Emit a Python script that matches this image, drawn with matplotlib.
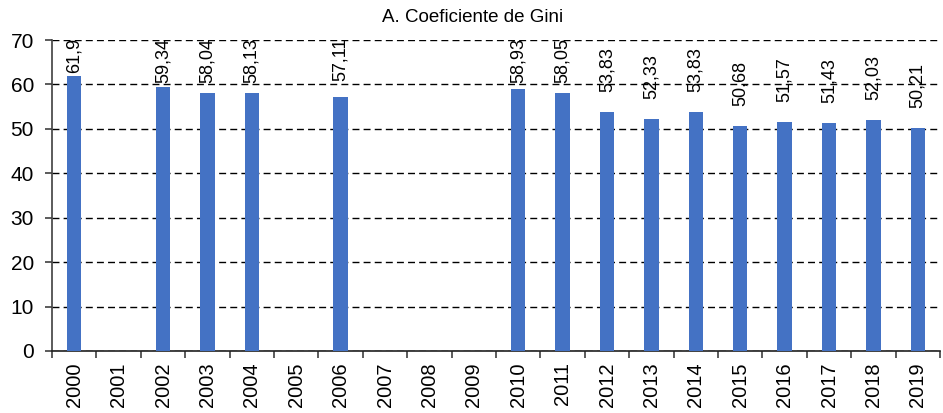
import numpy as np
import matplotlib
matplotlib.use("Agg")
import matplotlib.pyplot as plt
from matplotlib.transforms import offset_copy

years = [str(y) for y in range(2000, 2020)]
gini = [61.9, np.nan, 59.34, 58.04, 58.13, np.nan, 57.11, np.nan, np.nan, np.nan,
        58.93, 58.05, 53.83, 52.33, 53.83, 50.68, 51.57, 51.43, 52.03, 50.21]
y_ticks = [0, 10, 20, 30, 40, 50, 60, 70]
title = "A. Coeficiente de Gini"

plt.rcParams["font.family"] = ["Liberation Sans", "DejaVu Sans"]

fig = plt.figure(figsize=(9.43, 4.13), dpi=100)
ax = fig.add_axes([52 / 943, 1 - 351 / 413, 888 / 943, 311 / 413])

x = np.arange(len(years))
ax.bar(x, gini, width=0.32, color="#4472C4", zorder=3)

ax.set_xlim(-0.5, len(years) - 0.5)
ax.set_ylim(0, 70)
ax.set_yticks(y_ticks)
ax.yaxis.grid(True, linestyle=(0, (5, 3)), color="black", linewidth=1.0, zorder=0)
ax.set_axisbelow(True)

ax.set_xticks(x)
ax.set_xticklabels(years, rotation=90, fontsize=14.5)
ax.set_xticks(np.arange(-0.5, len(years)), minor=True)
ax.tick_params(axis="x", which="major", length=0, pad=8)
ax.tick_params(axis="x", which="minor", length=5, width=1.2, color="#404040", direction="out")
ax.tick_params(axis="y", length=5, width=1.2, color="#404040", pad=8, labelsize=15)

for side in ["top", "right"]:
    ax.spines[side].set_visible(False)
ax.spines["left"].set_color("#404040")
ax.spines["left"].set_linewidth(1.2)
ax.spines["bottom"].set_color("#202020")
ax.spines["bottom"].set_linewidth(1.2)

fig.text(0.5015, 1 - 18 / 413, title, ha="center", va="center", fontsize=13.5)

# etiquetas de valor encima de las barras
gap = 14
labels = []
for i, v in enumerate(gini):
    if np.isnan(v):
        continue
    txt = f"{v:g}".replace(".", ",")
    t = ax.text(i, v, txt, rotation=90, ha="center", va="bottom", fontsize=13,
                transform=offset_copy(ax.transData, fig, y=gap, units="points"),
                zorder=4)
    labels.append(t)

fig.canvas.draw()
renderer = fig.canvas.get_renderer()
top = ax.transAxes.transform((0, 1))[1] + 2
for t in labels:
    bb = t.get_window_extent(renderer)
    if bb.y1 > top:
        shift = (bb.y1 - top) * 72 / fig.dpi
        t.set_transform(offset_copy(ax.transData, fig, y=gap - shift, units="points"))

fig.savefig("out.png", dpi=100)
